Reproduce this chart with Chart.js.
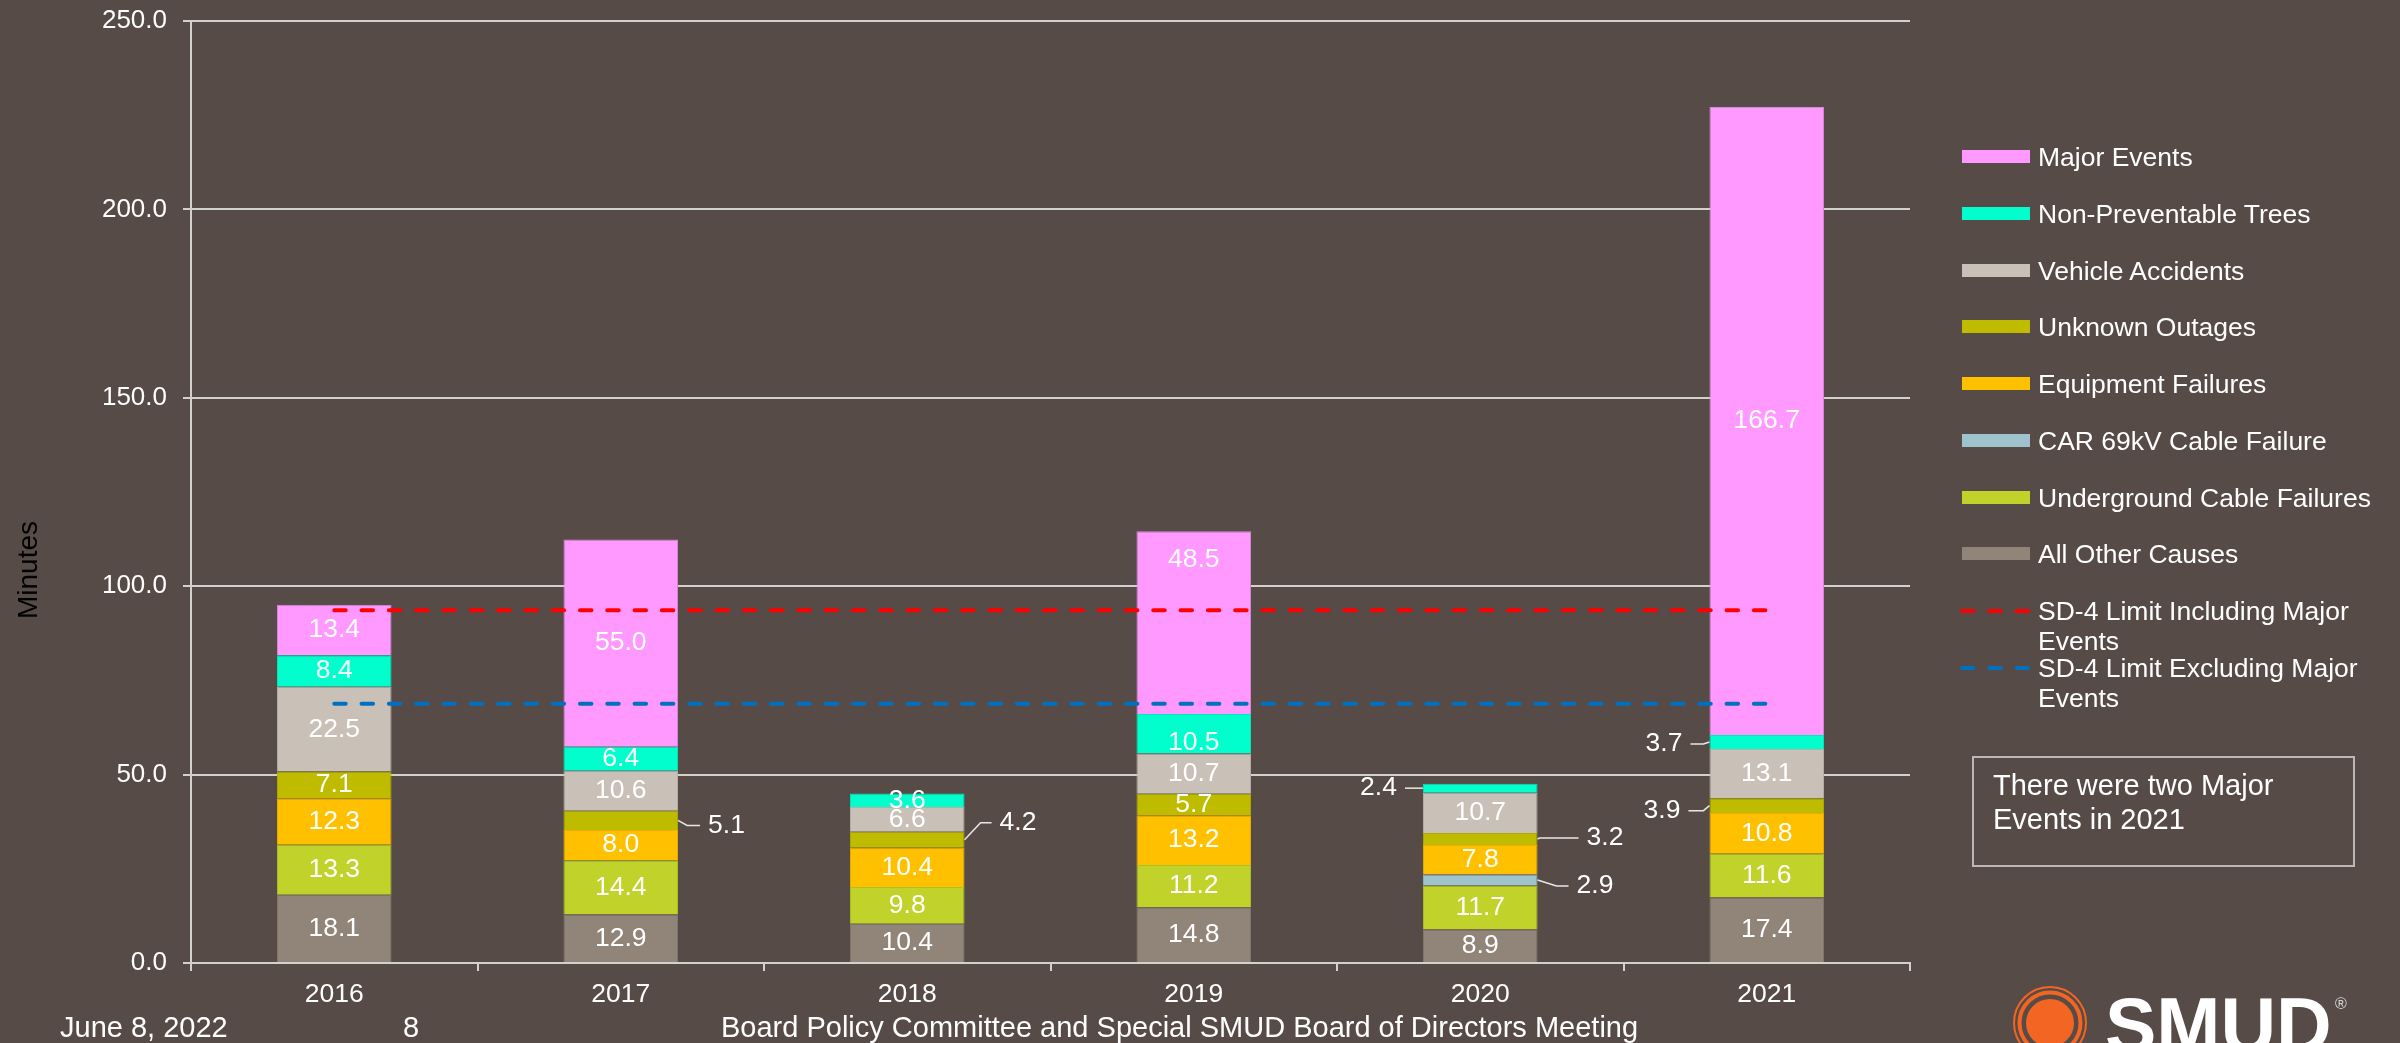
<!DOCTYPE html>
<html>
<head>
<meta charset="utf-8">
<script src="https://cdn.jsdelivr.net/npm/chart.js@4.4.1/dist/chart.umd.min.js"></script>
<style>
  body { margin: 0; background: #564b47; font-family: "Liberation Sans", Arial, sans-serif; }
  #wrap { position: relative; width: 2400px; height: 1043px; overflow: hidden; background: #564b47; }
  #chart { position: absolute; left: 0; top: 0; display: block; }
  .txt { position: absolute; color: #fff; white-space: nowrap; }
  #ytitle { position: absolute; left: 28px; top: 570px; color: #000; font-size: 28px; line-height: 32px;
            transform: translate(-50%, -50%) rotate(-90deg); white-space: nowrap; }
  .leg { position: absolute; left: 1960px; height: 30px; }
  .leg .sw { position: absolute; left: 2px; top: 8px; width: 68px; height: 13px; }
  .leg svg { position: absolute; left: 0; top: 12px; }
  .leg .lb { position: absolute; left: 78px; top: 0; color: #fff; font-size: 26.5px; line-height: 30px; white-space: nowrap; }
  .leg .lb.wrap { white-space: normal; width: 320px; line-height: 30px; }
  #note { position: absolute; left: 1972px; top: 756px; width: 379px; height: 107px; border: 2px solid #bdb8b4;
          color: #fff; font-size: 29px; line-height: 34px; padding: 0; }
  #note div { position: absolute; left: 19px; top: 10px; }
</style>
</head>
<body>
<div id="wrap">
  <canvas id="chart" width="2400" height="1043"></canvas>
  <div id="ytitle">Minutes</div>
  <div id="legend"></div>
  <div id="note"><div>There were two Major<br>Events in 2021</div></div>
  <div class="txt" style="left:60px;top:1010px;font-size:29px;line-height:34px;">June 8, 2022</div>
  <div class="txt" style="left:403px;top:1010px;font-size:29px;line-height:34px;">8</div>
  <div class="txt" style="left:721px;top:1010px;font-size:29px;line-height:34px;">Board Policy Committee and Special SMUD Board of Directors Meeting</div>
  <svg style="position:absolute;left:1990px;top:975px;overflow:visible" width="410" height="68">
    <circle cx="60" cy="48" r="36" fill="none" stroke="#f26522" stroke-width="2"/>
    <circle cx="60" cy="48" r="30.5" fill="none" stroke="#f26522" stroke-width="4"/>
    <circle cx="60" cy="48" r="24" fill="#f26522"/>
    <text x="115" y="77" fill="#fff" font-family="Liberation Sans, Arial, sans-serif" font-weight="bold" font-size="77">SMUD</text>
    <text x="345" y="34" fill="#d8d8d8" font-family="Liberation Sans, Arial, sans-serif" font-size="16">®</text>
  </svg>
</div>
<script>
// --- data (minutes of outage per customer, by cause) ---
const years = ["2016", "2017", "2018", "2019", "2020", "2021"];
const allOtherCauses = [18.1, 12.9, 10.4, 14.8, 8.9, 17.4];
const undergroundCableFailures = [13.3, 14.4, 9.8, 11.2, 11.7, 11.6];
const car69kVCableFailure = [0, 0, 0, 0, 2.9, 0];
const equipmentFailures = [12.3, 8.0, 10.4, 13.2, 7.8, 10.8];
const unknownOutages = [7.1, 5.1, 4.2, 5.7, 3.2, 3.9];
const vehicleAccidents = [22.5, 10.6, 6.6, 10.7, 10.7, 13.1];
const nonPreventableTrees = [8.4, 6.4, 3.6, 10.5, 2.4, 3.7];
const majorEvents = [13.4, 55.0, 0, 48.5, 0, 166.7];
const limitIncludingMajor = [93.6, 93.6, 93.6, 93.6, 93.6, 93.6];
const limitExcludingMajor = [68.8, 68.8, 68.8, 68.8, 68.8, 68.8];
const yTicks = [0, 50, 100, 150, 200, 250];

// stacking order, bottom to top
const barSeries = [
  { name: "All Other Causes", data: allOtherCauses, color: "#918479", border: "#85786e" },
  { name: "Underground Cable Failures", data: undergroundCableFailures, color: "#c1d22b", border: "#b0bf26" },
  { name: "CAR 69kV Cable Failure", data: car69kVCableFailure, color: "#9fc3cc", border: "#91b2ba" },
  { name: "Equipment Failures", data: equipmentFailures, color: "#ffc000", border: "#e8af00" },
  { name: "Unknown Outages", data: unknownOutages, color: "#bfbc00", border: "#aeab00" },
  { name: "Vehicle Accidents", data: vehicleAccidents, color: "#c9c0b8", border: "#b7afa8" },
  { name: "Non-Preventable Trees", data: nonPreventableTrees, color: "#00ffcc", border: "#00e8ba" },
  { name: "Major Events", data: majorEvents, color: "#ff99ff", border: "#d886d8" },
];
const lineSeries = [
  { name: "SD-4 Limit Including Major Events", data: limitIncludingMajor, color: "#ff0000" },
  { name: "SD-4 Limit Excluding Major Events", data: limitExcludingMajor, color: "#0070c0" },
];

// labels that sit outside the bar with a leader line
const callouts = {
  "Unknown Outages|2017": { side: 1, elbow: 9, gap: 30, dy: 5 },
  "Unknown Outages|2018": { side: 1, elbow: 16, gap: 35, dy: -17 },
  "Unknown Outages|2020": { side: 1, elbow: 2, gap: 49, dy: -1 },
  "CAR 69kV Cable Failure|2020": { side: 1, elbow: 19, gap: 39, dy: 6 },
  "Non-Preventable Trees|2020": { side: -1, elbow: 0, gap: 26, dy: 0 },
  "Non-Preventable Trees|2021": { side: -1, elbow: 6, gap: 27, dy: 2 },
  "Unknown Outages|2021": { side: -1, elbow: 6, gap: 29, dy: 5 },
};
// labels moved inside their segment
const nudges = { "Major Events|2019": -63, "Non-Preventable Trees|2019": 9 };

const FONT = '"Liberation Sans", Arial, sans-serif';

const segLabels = {
  id: "segLabels",
  afterDatasetsDraw(chart) {
    const ctx = chart.ctx;
    ctx.save();
    ctx.font = "26.5px " + FONT;
    ctx.fillStyle = "#fff";
    ctx.textBaseline = "middle";
    barSeries.forEach((s, di) => {
      chart.getDatasetMeta(di).data.forEach((bar, i) => {
        const v = s.data[i];
        if (!v) return;
        const key = s.name + "|" + years[i];
        const p = bar.getProps(["x", "y", "base", "width"], true);
        const y = (p.y + p.base) / 2;
        const c = callouts[key];
        if (c) {
          const edge = p.x + c.side * p.width / 2;
          const ty = y + c.dy;
          ctx.strokeStyle = "#ebe7e3";
          ctx.lineWidth = 1.5;
          ctx.beginPath();
          ctx.moveTo(edge, y);
          ctx.lineTo(edge + c.side * c.elbow, ty);
          ctx.lineTo(edge + c.side * (c.gap - 8), ty);
          ctx.stroke();
          ctx.textAlign = c.side > 0 ? "left" : "right";
          ctx.fillText(v.toFixed(1), edge + c.side * c.gap, ty);
        } else {
          ctx.textAlign = "center";
          ctx.fillText(v.toFixed(1), p.x, y + (nudges[key] || 0));
        }
      });
    });
    ctx.restore();
  },
};

const datasets = barSeries.map((s) => ({
  type: "bar",
  label: s.name,
  data: s.data,
  backgroundColor: s.color,
  borderColor: s.border,
  borderWidth: 1,
  stack: "causes",
  barPercentage: 0.4,
  categoryPercentage: 1,
}));
lineSeries.forEach((s, k) => {
  datasets.push({
    type: "line",
    label: s.name,
    data: s.data,
    borderColor: s.color,
    borderWidth: 4,
    borderDash: [11.5, 15.8],
    borderCapStyle: "round",
    pointRadius: 0,
    fill: false,
    stack: "limit" + k,
    order: -1,
  });
});

new Chart(document.getElementById("chart"), {
  type: "bar",
  data: { labels: years, datasets },
  options: {
    responsive: false,
    animation: false,
    layout: { padding: { left: 0, right: 490, top: 21, bottom: 0 } },
    plugins: { legend: { display: false }, tooltip: { enabled: false } },
    scales: {
      x: {
        stacked: true,
        afterFit: (s) => { s.height = 80; },
        grid: { drawOnChartArea: false, drawTicks: true, tickLength: 8, color: "#d4d0cc", lineWidth: 2, offset: true },
        border: { color: "#d4d0cc", width: 2 },
        ticks: { color: "#fff", font: { family: FONT, size: 26.5 }, padding: 8 },
      },
      y: {
        stacked: true,
        min: 0,
        max: 250,
        afterFit: (s) => { s.width = 191; s.paddingTop = 0; s.paddingBottom = 0; },
        afterBuildTicks: (s) => { s.ticks = yTicks.map((v) => ({ value: v })); },
        grid: { color: "#d4d0cc", lineWidth: 2, tickLength: 8 },
        border: { color: "#d4d0cc", width: 2 },
        ticks: { color: "#fff", font: { family: FONT, size: 26 }, padding: 16, callback: (v) => v.toFixed(1) },
      },
    },
  },
  plugins: [segLabels],
});

// legend, top entry first
const legend = document.getElementById("legend");
const legendItems = barSeries.slice().reverse().concat(lineSeries);
legendItems.forEach((s, i) => {
  const row = document.createElement("div");
  row.className = "leg";
  row.style.top = (157 + i * 56.75 - 15) + "px";
  const isLine = lineSeries.includes(s);
  if (isLine) {
    row.innerHTML =
      '<svg width="76" height="6"><line x1="2" y1="3" x2="72" y2="3" stroke="' + s.color +
      '" stroke-width="4" stroke-linecap="round" stroke-dasharray="11.5 15.8"/></svg>';
  } else {
    row.innerHTML = '<div class="sw" style="background:' + s.color + '"></div>';
  }
  const lb = document.createElement("div");
  lb.className = isLine ? "lb wrap" : "lb";
  lb.textContent = s.name;
  row.appendChild(lb);
  legend.appendChild(row);
});
</script>
</body>
</html>
